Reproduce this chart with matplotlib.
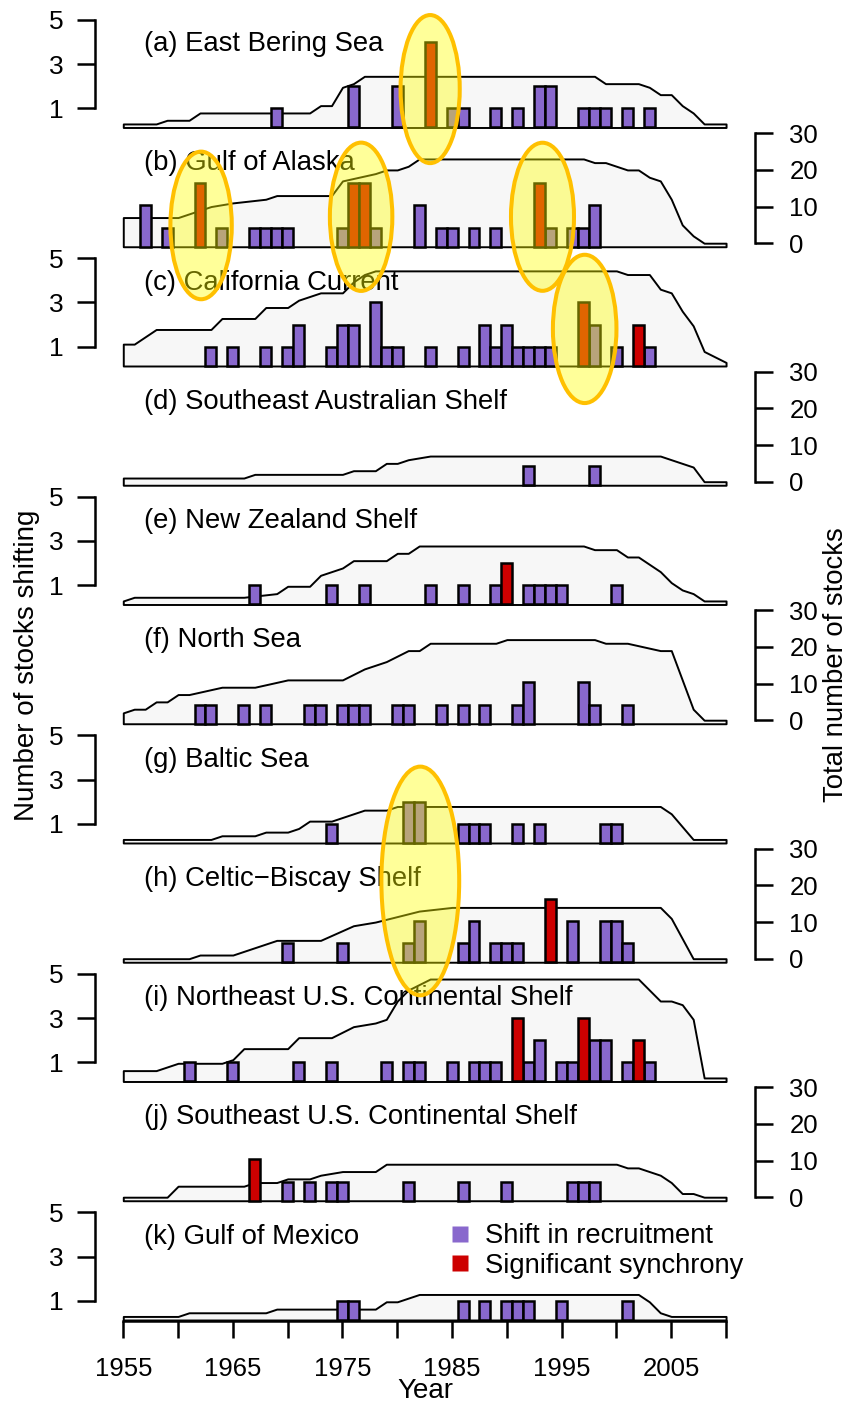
import numpy as np
import matplotlib
matplotlib.use('Agg')
import matplotlib.pyplot as plt
from matplotlib.patches import Ellipse
from matplotlib.lines import Line2D

plt.rcParams['font.family'] = ['Liberation Sans', 'DejaVu Sans']

titles = ['(a) East Bering Sea', '(b) Gulf of Alaska', '(c) California Current',
          '(d) Southeast Australian Shelf', '(e) New Zealand Shelf', '(f) North Sea',
          '(g) Baltic Sea', '(h) Celtic\u2212Biscay Shelf',
          '(i) Northeast U.S. Continental Shelf', '(j) Southeast U.S. Continental Shelf',
          '(k) Gulf of Mexico']

# total number of stocks assessed (breakpoints of the outline)
tot_yr_a = [1955, 1958, 1959, 1961, 1962, 1972, 1973, 1974, 1975, 1976, 1977, 1998, 1999,
            2002, 2003, 2004, 2005, 2006, 2007, 2008, 2010]
tot_a = [0, 0, 1, 1, 3, 3, 5, 5, 10, 11, 13, 13, 11, 11, 10, 8, 8, 5, 3, 0, 0]
tot_yr_b = [1955, 1960, 1961, 1963, 1965, 1968, 1969, 1974, 1975, 1978, 1979, 1980, 1981,
            1982, 1997, 1998, 1999, 2001, 2002, 2003, 2004, 2005, 2006, 2007, 2008, 2010]
tot_b = [7, 7, 8, 10, 11, 12, 13, 13, 17, 19, 20, 20, 21, 23, 23, 22, 22, 20, 20, 18, 17,
         12, 5, 2, 0, 0]
tot_yr_c = [1955, 1956, 1958, 1963, 1964, 1967, 1968, 1970, 1971, 1973, 1975, 1976, 1977,
            1978, 2000, 2001, 2003, 2004, 2005, 2006, 2007, 2008, 2010]
tot_c = [5, 5, 9, 9, 12, 12, 15, 15, 17, 19, 19, 22, 24, 25, 25, 24, 24, 20, 19, 14, 10, 3, 0]
tot_yr_d = [1955, 1966, 1967, 1975, 1976, 1978, 1979, 1980, 1981, 1983, 2004, 2005, 2006,
            2007, 2008, 2010]
tot_d = [1, 1, 2, 2, 3, 3, 5, 5, 6, 7, 7, 6, 5, 4, 0, 0]
tot_yr_e = [1955, 1956, 1966, 1969, 1970, 1972, 1973, 1975, 1976, 1979, 1980, 1981, 1982,
            1997, 1998, 2000, 2001, 2002, 2003, 2004, 2005, 2006, 2007, 2008, 2010]
tot_e = [0, 1, 1, 2, 4, 4, 7, 9, 11, 11, 13, 13, 15, 15, 14, 14, 12, 12, 10, 8, 5, 3, 2, 0, 0]
tot_yr_f = [1955, 1956, 1957, 1958, 1959, 1960, 1961, 1964, 1967, 1970, 1975, 1977, 1978,
            1979, 1981, 1982, 1983, 1989, 1990, 1998, 1999, 2001, 2004, 2005, 2006, 2007,
            2008, 2010]
tot_f = [2, 3, 3, 5, 5, 7, 7, 9, 9, 11, 11, 14, 15, 16, 19, 19, 21, 21, 22, 22, 21, 21, 19,
         19, 11, 3, 0, 0]
tot_yr_g = [1955, 1963, 1964, 1967, 1968, 1970, 1971, 1972, 1974, 1975, 1977, 1979, 1980,
            2004, 2005, 2007, 2010]
tot_g = [0, 0, 1, 1, 2, 2, 3, 5, 5, 6, 8, 8, 9, 9, 7, 0, 0]
tot_yr_h = [1955, 1961, 1962, 1965, 1969, 1973, 1976, 1978, 1982, 1985, 2004, 2005, 2007, 2010]
tot_h = [0, 0, 1, 1, 5, 5, 9, 10, 13, 14, 14, 11, 0, 0]
tot_yr_i = [1955, 1958, 1960, 1964, 1965, 1966, 1970, 1971, 1974, 1976, 1978, 1979, 1980,
            1981, 1983, 2002, 2003, 2004, 2005, 2006, 2007, 2008, 2010]
tot_i = [2, 2, 4, 4, 5, 8, 8, 11, 11, 14, 15, 16, 21, 24, 27, 27, 24, 21, 21, 20, 16, 0, 0]
tot_yr_j = [1955, 1959, 1960, 1966, 1967, 1969, 1970, 1972, 1973, 1975, 1978, 1979, 2000,
            2001, 2002, 2004, 2005, 2006, 2007, 2008, 2010]
tot_j = [0, 0, 3, 3, 4, 4, 5, 5, 6, 7, 7, 9, 9, 8, 8, 6, 4, 1, 1, 0, 0]
tot_yr_k = [1955, 1960, 1961, 1968, 1969, 1978, 1979, 1980, 1982, 2002, 2003, 2004, 2005, 2010]
tot_k = [0, 0, 1, 1, 2, 2, 4, 4, 6, 6, 4, 1, 0, 0]

# stocks with a shift in recruitment
shift_yr_a = [1969, 1976, 1980, 1985, 1986, 1989, 1991, 1993, 1994, 1997, 1998, 1999, 2001, 2003]
shift_a = [1, 2, 2, 1, 1, 1, 1, 2, 2, 1, 1, 1, 1, 1]
shift_yr_b = [1957, 1959, 1964, 1967, 1968, 1969, 1970, 1975, 1978, 1982, 1984, 1985, 1987,
              1989, 1994, 1996, 1997, 1998]
shift_b = [2, 1, 1, 1, 1, 1, 1, 1, 1, 2, 1, 1, 1, 1, 1, 1, 1, 2]
shift_yr_c = [1963, 1965, 1968, 1970, 1971, 1974, 1975, 1976, 1978, 1979, 1980, 1983, 1986,
              1988, 1989, 1990, 1991, 1992, 1993, 1994, 1998, 2000, 2003]
shift_c = [1, 1, 1, 1, 2, 1, 2, 2, 3, 1, 1, 1, 1, 2, 1, 2, 1, 1, 1, 1, 2, 1, 1]
shift_yr_d = [1992, 1998]
shift_d = [1, 1]
shift_yr_e = [1967, 1974, 1977, 1983, 1986, 1989, 1992, 1993, 1994, 1995, 2000]
shift_e = [1, 1, 1, 1, 1, 1, 1, 1, 1, 1, 1]
shift_yr_f = [1962, 1963, 1966, 1968, 1972, 1973, 1975, 1976, 1977, 1980, 1981, 1984, 1986,
              1988, 1991, 1992, 1997, 1998, 2001]
shift_f = [1, 1, 1, 1, 1, 1, 1, 1, 1, 1, 1, 1, 1, 1, 1, 2, 2, 1, 1]
shift_yr_g = [1974, 1981, 1982, 1986, 1987, 1988, 1991, 1993, 1999, 2000]
shift_g = [1, 2, 2, 1, 1, 1, 1, 1, 1, 1]
shift_yr_h = [1970, 1975, 1981, 1982, 1986, 1987, 1989, 1990, 1991, 1996, 1999, 2000, 2001]
shift_h = [1, 1, 1, 2, 1, 2, 1, 1, 1, 2, 2, 2, 1]
shift_yr_i = [1961, 1965, 1971, 1974, 1979, 1981, 1982, 1985, 1987, 1988, 1989, 1992, 1993,
              1995, 1996, 1998, 1999, 2001, 2003]
shift_i = [1, 1, 1, 1, 1, 1, 1, 1, 1, 1, 1, 1, 2, 1, 1, 2, 2, 1, 1]
shift_yr_j = [1970, 1972, 1974, 1975, 1981, 1986, 1990, 1996, 1997, 1998]
shift_j = [1, 1, 1, 1, 1, 1, 1, 1, 1, 1]
shift_yr_k = [1975, 1976, 1986, 1988, 1990, 1991, 1992, 1995, 2001]
shift_k = [1, 1, 1, 1, 1, 1, 1, 1, 1]

# years with significant synchrony
sync_yr_a, sync_a = [1983], [4]
sync_yr_b, sync_b = [1962, 1976, 1977, 1993], [3, 3, 3, 3]
sync_yr_c, sync_c = [1997, 2002], [3, 2]
sync_yr_e, sync_e = [1990], [2]
sync_yr_h, sync_h = [1994], [3]
sync_yr_i, sync_i = [1991, 1997, 2002], [3, 3, 2]
sync_yr_j, sync_j = [1967], [2]

panels = [
    (tot_yr_a, tot_a, shift_yr_a, shift_a, sync_yr_a, sync_a),
    (tot_yr_b, tot_b, shift_yr_b, shift_b, sync_yr_b, sync_b),
    (tot_yr_c, tot_c, shift_yr_c, shift_c, sync_yr_c, sync_c),
    (tot_yr_d, tot_d, shift_yr_d, shift_d, [], []),
    (tot_yr_e, tot_e, shift_yr_e, shift_e, sync_yr_e, sync_e),
    (tot_yr_f, tot_f, shift_yr_f, shift_f, [], []),
    (tot_yr_g, tot_g, shift_yr_g, shift_g, [], []),
    (tot_yr_h, tot_h, shift_yr_h, shift_h, sync_yr_h, sync_h),
    (tot_yr_i, tot_i, shift_yr_i, shift_i, sync_yr_i, sync_i),
    (tot_yr_j, tot_j, shift_yr_j, shift_j, sync_yr_j, sync_j),
    (tot_yr_k, tot_k, shift_yr_k, shift_k, [], []),
]

# highlighted clusters: (panel, year, level on shift axis, width in years, height)
highlights = [(0, 1983.0, 1.87, 5.4, 6.67), (1, 1962.1, 1.10, 5.6, 6.65),
              (1, 1976.7, 1.49, 5.7, 6.68), (1, 1993.25, 1.49, 5.75, 6.67),
              (2, 1997.1, 1.81, 5.8, 6.68), (6, 1982.1, -1.57, 7.1, 10.3)]

PURPLE = '#8968CD'
RED = '#CD0000'
W, H = 850, 1402
PPU = 22.2            # pixels per stock on the shift axis
BASE = 0.14           # bars and outline start here
S0, S30 = 0.30, 5.25  # where 0 and 30 total stocks sit on the shift axis
SPU = (S30 - S0) / 30.0

fig = plt.figure(figsize=(W / 100, H / 100), dpi=100)
ylo, yhi = -4 / PPU, 119 / PPU
axes = []
for i, (tyr, tot, syr, sh, ryr, rs) in enumerate(panels):
    y0 = 130.6 + 119.25 * i
    ax = fig.add_axes([95 / W, 1 - (y0 + 4) / H, 660 / W, 123 / H])
    ax2 = ax.twinx()
    ax.set_zorder(ax2.get_zorder() + 1)
    ax.patch.set_visible(False)
    ax2.patch.set_visible(False)
    ax.set_xlim(1952.42, 2012.64)
    ax.set_ylim(ylo, yhi)
    ax2.set_ylim((ylo - S0) / SPU, (yhi - S0) / SPU)

    ax2.fill_between(tyr, (BASE - S0) / SPU, tot, facecolor='#f7f7f7',
                     edgecolor='black', linewidth=1.4)
    ax.bar(syr, np.asarray(sh) - BASE, bottom=BASE, width=1, color=PURPLE,
           edgecolor='black', linewidth=1.8)
    if ryr:
        ax.bar(ryr, np.asarray(rs) - BASE, bottom=BASE, width=1, color=RED,
               edgecolor='black', linewidth=1.8)
    ax.text(1956.9, 3.9, titles[i], fontsize=19.8, va='center', ha='left')

    for a in (ax, ax2):
        for s in a.spines.values():
            s.set_visible(False)
        a.set_xticks([])
    if i % 2 == 0:
        ax.spines['left'].set_visible(True)
        ax.spines['left'].set_bounds(1, 5)
        ax.spines['left'].set_linewidth(1.8)
        ax.set_yticks([1, 3, 5])
        ax.tick_params(axis='y', direction='out', length=12.7, width=1.8, pad=10,
                       labelsize=19)
        ax2.set_yticks([])
    else:
        ax2.spines['right'].set_visible(True)
        ax2.spines['right'].set_bounds(0, 30)
        ax2.spines['right'].set_linewidth(1.8)
        ax2.set_yticks([0, 10, 20, 30])
        ax2.tick_params(axis='y', direction='out', length=12.7, width=1.8, pad=12,
                        labelsize=18.5)
        ax.set_yticks([])
    axes.append(ax)

# year axis on the bottom panel
axk = axes[-1]
axk.spines['bottom'].set_visible(True)
axk.spines['bottom'].set_position(('data', 0.1))
axk.spines['bottom'].set_bounds(1955, 2010)
axk.spines['bottom'].set_linewidth(1.8)
ticks = list(range(1955, 2011, 5))
axk.set_xticks(ticks)
axk.set_xticklabels([str(t) if (t - 1955) % 10 == 0 else '' for t in ticks])
axk.tick_params(axis='x', direction='out', length=12, width=1.8, pad=14, labelsize=18.5)

handles = [Line2D([], [], marker='s', ls='none', markersize=11, markerfacecolor=PURPLE,
                  markeredgecolor='none'),
           Line2D([], [], marker='s', ls='none', markersize=11, markerfacecolor=RED,
                  markeredgecolor='none')]
axk.legend(handles, ['Shift in recruitment', 'Significant synchrony'], loc='center left',
           bbox_to_anchor=(446 / W, 1 - 1251 / H), bbox_transform=fig.transFigure,
           frameon=False, fontsize=19.7, handlelength=1.0, handletextpad=0.42,
           borderpad=0, borderaxespad=0, labelspacing=0.12)

for pi, yr, lvl, w, h in highlights:
    fig.add_artist(Ellipse((yr, lvl), w, h, transform=axes[pi].transData,
                           facecolor=(1, 1, 0, 0.4), edgecolor='#FFC000',
                           linewidth=2.9, zorder=10))

fig.text(27 / W, 1 - 665 / H, 'Number of stocks shifting', rotation=90, fontsize=20,
         ha='center', va='center')
fig.text(836 / W, 1 - 665 / H, 'Total number of stocks', rotation=90, fontsize=19.8,
         ha='center', va='center')
fig.text(425 / W, 1 - 1397.5 / H, 'Year', fontsize=20, ha='center', va='baseline')

fig.savefig('out.png', dpi=100)
